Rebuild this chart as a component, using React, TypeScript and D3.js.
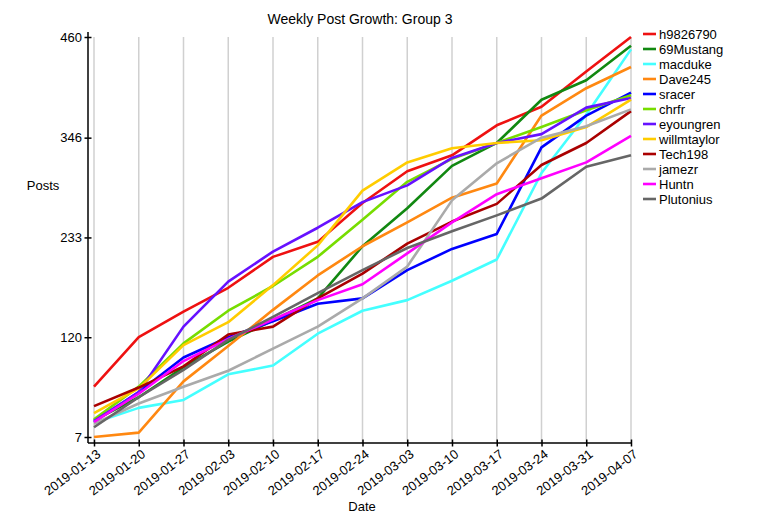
import React, { useEffect, useRef } from "react";
import * as d3 from "d3";

const dates = [
  "2019-01-13", "2019-01-20", "2019-01-27", "2019-02-03", "2019-02-10",
  "2019-02-17", "2019-02-24", "2019-03-03", "2019-03-10", "2019-03-17",
  "2019-03-24", "2019-03-31", "2019-04-07",
];

const yTicks = [7, 120, 233, 346, 460];

const h9826790 = [64, 120, 149, 176, 211, 228, 272, 308, 326, 360, 381, 421, 460];
const mustang69 = [26, 52, 86, 115, 139, 164, 223, 266, 314, 340, 389, 411, 450];
const macduke = [23, 40, 49, 78, 88, 124, 150, 162, 184, 208, 306, 372, 446];
const dave245 = [7, 12, 70, 110, 151, 190, 223, 250, 278, 294, 371, 402, 426];
const sracer = [24, 58, 97, 120, 138, 158, 164, 196, 220, 237, 335, 371, 397];
const chrfr = [27, 64, 113, 150, 178, 211, 253, 296, 322, 340, 358, 377, 394];
const eyoungren = [25, 58, 132, 183, 217, 244, 273, 292, 323, 340, 350, 380, 391];
const willmtaylor = [34, 62, 111, 137, 179, 224, 286, 318, 334, 340, 343, 358, 389];
const tech198 = [42, 63, 87, 123, 132, 164, 192, 226, 251, 271, 315, 340, 376];
const jamezr = [22, 45, 64, 82, 107, 132, 164, 200, 275, 317, 346, 359, 378];
const huntn = [24, 56, 93, 118, 140, 162, 180, 215, 250, 282, 300, 318, 348];
const plutonius = [18, 52, 83, 117, 143, 170, 196, 221, 240, 258, 277, 313, 326];

const seriesNames = [
  "h9826790", "69Mustang", "macduke", "Dave245", "sracer", "chrfr",
  "eyoungren", "willmtaylor", "Tech198", "jamezr", "Huntn", "Plutonius",
];
const seriesValues = [
  h9826790, mustang69, macduke, dave245, sracer, chrfr,
  eyoungren, willmtaylor, tech198, jamezr, huntn, plutonius,
];
const seriesColors = [
  "#ee1111", "#118811", "#44ffff", "#ff8811", "#0000ff", "#77dd00",
  "#6611ff", "#ffcc00", "#aa0000", "#aaaaaa", "#ff00ff", "#666666",
];

const W = 775;
const H = 525;
const FONT = "'Liberation Sans', Arial, sans-serif";

const App: React.FC = () => {
  const ref = useRef<SVGSVGElement>(null);

  useEffect(() => {
    if (!ref.current) return;
    const svg = d3.select(ref.current);
    svg.selectAll("*").remove();

    const axisX = 88;
    const axisY = 443;

    const x = d3.scalePoint<string>().domain(dates).range([94, 631]);
    const y = d3.scaleLinear().domain([7, 460]).range([437, 37]);

    svg.append("rect").attr("width", W).attr("height", H).attr("fill", "#fff");

    // vertical grid
    svg
      .append("g")
      .selectAll("line")
      .data(dates)
      .enter()
      .append("line")
      .attr("x1", (d) => x(d)!)
      .attr("x2", (d) => x(d)!)
      .attr("y1", y(460))
      .attr("y2", axisY)
      .attr("stroke", "#d0d0d0")
      .attr("stroke-width", 1.5);

    // lines
    const line = d3
      .line<number>()
      .x((_, i) => x(dates[i])!)
      .y((d) => y(d));

    svg
      .append("g")
      .selectAll("path")
      .data(seriesValues)
      .enter()
      .append("path")
      .attr("d", (d) => line(d))
      .attr("fill", "none")
      .attr("stroke", (_, i) => seriesColors[i])
      .attr("stroke-width", 2.6)
      .attr("stroke-linejoin", "round");

    // y axis
    const gy = svg
      .append("g")
      .attr("transform", `translate(${axisX},0)`)
      .call(d3.axisLeft(y).tickValues(yTicks).tickSize(4).tickFormat(d3.format("d")));
    gy.select(".domain").attr("d", `M0,32V${axisY}`).attr("stroke", "#000").attr("stroke-width", 1.5);
    gy.selectAll(".tick line").attr("x1", 3.5).attr("x2", -3.5).attr("stroke", "#000").attr("stroke-width", 1.5);
    gy.selectAll(".tick text")
      .attr("x", -6)
      .attr("fill", "#000")
      .style("font-family", FONT)
      .style("font-size", "13px");

    // x axis
    const gx = svg
      .append("g")
      .attr("transform", `translate(0,${axisY})`)
      .call(d3.axisBottom(x).tickSize(4));
    gx.select(".domain").attr("d", `M${axisX},0H632`).attr("stroke", "#000").attr("stroke-width", 1.5);
    gx.selectAll(".tick line").attr("y1", -3.5).attr("y2", 3.5).attr("stroke", "#000").attr("stroke-width", 1.5);
    gx.selectAll(".tick text")
      .attr("y", 0)
      .attr("dy", 0)
      .attr("text-anchor", "end")
      .attr("transform", "translate(7,13) rotate(-37)")
      .attr("fill", "#000")
      .style("font-family", FONT)
      .style("font-size", "13px");

    // titles
    svg
      .append("text")
      .attr("x", 360)
      .attr("y", 24)
      .attr("text-anchor", "middle")
      .style("font-family", FONT)
      .style("font-size", "14px")
      .text("Weekly Post Growth: Group 3");

    svg
      .append("text")
      .attr("x", 43)
      .attr("y", 190)
      .attr("text-anchor", "middle")
      .style("font-family", FONT)
      .style("font-size", "13px")
      .text("Posts");

    svg
      .append("text")
      .attr("x", 362)
      .attr("y", 511)
      .attr("text-anchor", "middle")
      .style("font-family", FONT)
      .style("font-size", "13px")
      .text("Date");

    // legend
    const legend = svg
      .append("g")
      .selectAll("g")
      .data(seriesNames)
      .enter()
      .append("g")
      .attr("transform", (_, i) => `translate(643,${34 + i * 15})`);
    legend
      .append("line")
      .attr("x1", 0)
      .attr("x2", 13)
      .attr("stroke", (_, i) => seriesColors[i])
      .attr("stroke-width", 2.6);
    legend
      .append("text")
      .attr("x", 16)
      .attr("dy", "0.35em")
      .style("font-family", FONT)
      .style("font-size", "13px")
      .text((d) => d);
  }, []);

  return (
    <svg
      ref={ref}
      width={W}
      height={H}
      style={{ position: "absolute", left: 0, top: 0, display: "block" }}
    />
  );
};

export default App;
